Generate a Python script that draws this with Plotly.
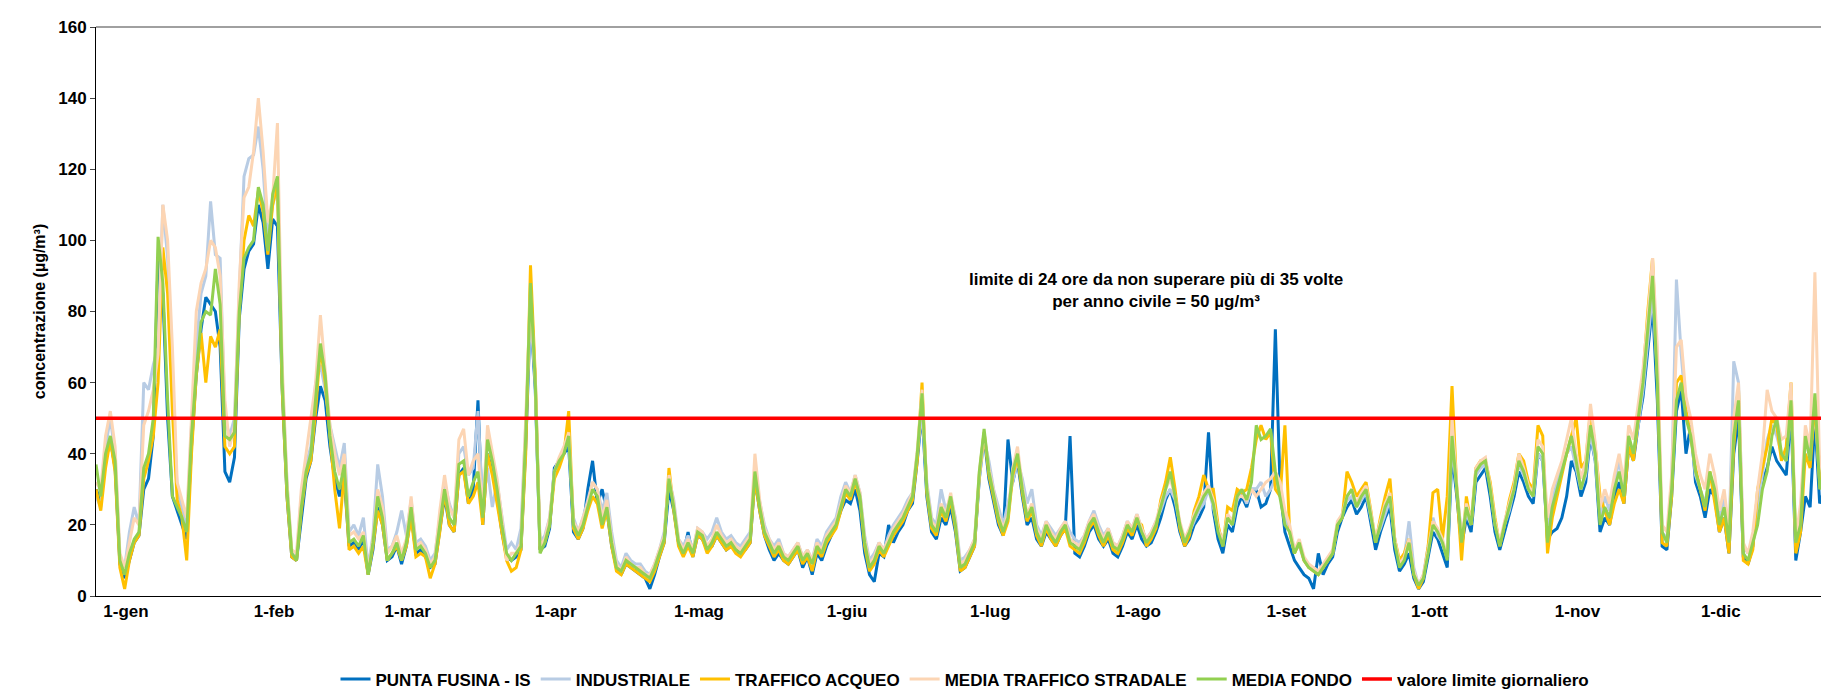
import plotly.graph_objects as go
import pandas as pd

dates = pd.date_range("2019-01-01", "2019-12-31", freq="D")

PUNTA_FUSINA = [
30,27,38,44,36,9,5,10,15,17,30,33,45,95,85,50,28,24,20,16,42,62,75,84,82,80,70,35,32,39,78,
92,97,99,110,105,92,106,104,58,28,11,10,22,33,38,50,59,55,42,33,28,33,14,15,13,16,6,13,
25,20,10,11,14,9,14,23,12,13,11,8,9,18,28,20,18,34,36,26,30,55,20,40,35,28,18,11,10,11,13,
42,80,58,13,14,19,36,38,40,42,18,16,19,30,38,26,30,24,14,8,6,9,8,7,6,5,2,6,11,15,
30,24,15,12,18,11,17,16,13,14,17,15,13,14,13,12,13,15,33,24,17,13,10,12,10,9,11,13,8,11,6,
12,10,14,17,20,24,27,26,30,24,12,6,4,12,11,20,15,18,20,24,26,38,52,28,18,16,22,20,25,18,
7,8,11,14,33,45,33,26,20,17,44,32,38,28,20,22,16,14,18,16,14,17,19,45,12,11,14,18,20,16,14,
16,12,11,14,18,16,20,16,14,15,18,22,27,30,25,18,14,16,20,22,25,46,24,16,12,20,18,25,28,25,30,
30,25,26,30,75,30,18,14,10,8,6,5,2,12,6,9,11,18,22,25,27,23,25,28,20,13,18,22,25,13,
7,9,12,5,2,4,11,18,16,12,8,40,28,14,22,18,32,34,36,28,18,13,18,23,28,35,32,28,26,40,38,
16,18,19,22,28,38,35,28,32,45,38,18,22,20,28,32,26,42,38,48,56,70,82,55,14,13,28,52,58,40,
48,32,28,22,30,28,18,22,12,40,50,11,9,14,28,32,36,42,38,36,34,52,10,18,28,25,50,26,30,38,60]

INDUSTRIALE = [
28,25,42,50,40,11,8,18,25,20,60,58,65,70,110,95,60,30,25,20,48,70,85,90,111,96,95,50,45,50,85,
118,123,124,132,120,100,110,115,62,32,12,11,28,37,42,60,65,58,48,42,36,43,18,20,17,22,8,17,
37,28,13,14,18,24,17,27,15,16,14,10,12,22,32,26,22,40,42,34,36,52,25,36,25,32,22,13,15,13,19,
50,78,62,15,17,22,34,37,41,44,22,18,22,27,32,30,24,29,18,10,8,12,10,9,9,7,6,9,13,18,
33,27,16,14,17,13,19,18,16,18,22,18,16,17,15,14,16,18,33,26,20,16,14,16,12,11,13,15,11,13,10,
16,14,18,20,22,28,32,29,34,29,17,10,12,15,13,17,20,22,24,27,29,40,52,32,22,20,30,24,28,22,
10,11,13,16,33,44,38,30,25,20,26,32,38,33,26,30,20,17,21,19,17,19,21,18,16,15,17,21,24,20,17,
19,15,14,17,21,19,23,19,16,18,21,24,28,30,27,20,16,18,21,24,26,30,25,19,15,22,20,27,29,26,30,
30,32,28,30,33,30,22,18,13,14,10,8,8,7,8,10,12,20,23,27,28,25,27,29,22,16,19,23,27,16,
9,11,21,8,3,6,14,22,17,15,11,42,30,17,23,20,34,36,37,31,20,15,20,24,30,37,34,30,28,40,38,
20,27,32,36,40,42,36,30,34,46,38,22,28,24,32,38,30,44,40,48,58,72,85,62,18,16,32,89,68,52,
45,34,30,26,34,30,22,28,15,66,60,14,12,16,26,34,44,48,45,40,38,55,14,24,44,40,52,32,38,44,88]

TRAFFICO_ACQUEO = [
30,24,36,44,35,8,2,10,15,17,33,38,45,60,98,85,52,27,22,10,40,62,74,60,73,70,75,42,40,42,80,
100,107,104,114,108,96,110,116,58,28,11,10,24,34,38,52,70,60,44,30,19,35,13,14,12,14,6,14,
24,20,10,12,14,10,14,22,11,12,11,5,9,18,29,20,18,34,35,26,28,32,20,40,34,26,18,10,7,8,13,
40,93,62,13,15,20,33,36,40,52,19,16,19,24,28,26,19,24,14,7,6,9,8,7,6,5,4,7,11,15,
36,24,14,11,14,11,17,16,12,14,17,15,13,14,12,11,13,15,33,24,17,14,11,13,10,9,11,13,9,11,7,
13,11,15,17,19,24,29,27,32,27,14,7,9,13,11,14,17,19,21,24,27,38,60,29,19,17,24,21,27,19,
7,8,11,14,34,46,34,27,21,17,21,34,39,29,21,24,17,14,19,16,14,17,19,14,13,12,15,19,21,17,14,
17,13,12,15,19,17,21,20,14,16,19,27,32,39,30,19,14,17,24,28,34,30,30,20,14,25,24,30,29,30,36,
44,48,44,46,30,28,48,18,12,15,10,8,7,6,8,10,12,20,22,35,32,28,30,32,24,15,22,28,33,16,
10,12,16,6,2,5,14,29,30,16,28,59,30,10,28,20,36,38,38,32,22,14,20,27,32,40,38,32,30,48,45,
12,22,28,34,40,45,50,36,38,52,42,28,24,20,26,30,26,42,38,50,62,80,95,62,15,14,28,60,62,52,
45,36,30,24,35,26,18,22,12,42,58,10,9,13,30,36,42,50,48,38,42,60,12,18,40,36,55,32,34,40,78]

MEDIA_TRAFFICO_STRADALE = [
32,30,45,52,42,12,8,15,22,20,48,52,58,68,110,100,70,32,27,22,50,80,88,92,100,98,90,55,42,48,88,
112,115,125,140,125,105,112,133,65,32,13,12,30,40,50,60,79,64,48,40,34,40,17,18,16,18,7,16,
30,25,12,14,17,12,16,28,14,15,13,9,11,24,34,25,22,44,47,34,38,40,24,48,40,33,22,10,12,12,15,
48,85,60,14,16,22,35,39,42,46,21,18,22,26,32,30,22,27,16,9,7,11,9,8,8,6,6,9,13,17,
34,26,16,13,16,13,19,18,14,16,20,17,15,16,14,13,15,17,40,27,19,16,13,15,12,11,13,15,11,13,10,
15,13,17,19,21,26,31,29,34,29,16,9,11,15,13,16,19,21,23,26,29,41,58,31,21,19,26,23,29,21,
9,10,13,16,35,46,36,29,23,19,23,36,42,31,23,26,19,16,21,18,16,19,21,16,15,14,17,21,23,19,16,
19,15,14,17,21,19,23,19,16,18,21,26,30,33,28,21,16,19,23,26,29,31,27,19,15,23,21,28,28,27,30,
28,30,32,33,35,32,24,20,13,16,11,9,8,7,9,11,13,21,23,28,30,26,29,31,23,16,21,26,29,16,
9,11,16,7,3,6,13,21,19,16,11,50,31,16,26,21,36,38,39,31,21,15,21,26,31,40,36,31,29,44,42,
22,30,34,38,44,50,40,33,38,54,43,25,30,26,34,40,32,48,44,54,64,78,95,70,20,18,34,70,72,56,
50,40,34,30,40,34,24,30,18,50,60,15,12,18,30,40,58,52,50,44,45,60,16,26,48,42,91,36,42,48,80]

MEDIA_FONDO = [
37,28,40,45,38,10,6,12,16,18,36,40,50,101,88,55,28,25,22,18,45,63,77,80,79,92,82,45,44,46,80,
95,98,100,115,110,97,113,118,60,30,12,10,25,35,40,55,71,62,45,35,30,37,15,16,14,17,6,15,
28,22,10,12,15,10,15,25,13,14,12,8,10,20,30,22,20,37,38,28,32,35,22,44,38,30,20,12,10,12,14,
45,88,60,12,15,20,35,38,40,45,20,17,20,25,30,28,20,25,15,8,7,10,9,8,7,6,5,8,12,16,
33,25,15,12,15,12,18,17,13,15,18,16,14,15,13,12,14,16,35,25,18,15,12,14,11,10,12,14,10,12,9,
14,12,16,18,20,25,30,28,33,28,15,8,10,14,12,15,18,20,22,25,28,40,57,30,20,18,25,22,28,20,
8,9,12,15,35,47,35,28,22,18,22,35,40,30,22,25,18,15,20,17,15,18,20,15,14,13,16,20,22,18,15,
18,14,13,16,20,18,22,18,15,17,20,25,30,35,28,20,15,18,22,25,28,30,26,18,14,22,20,28,30,27,32,
48,44,45,47,35,28,20,18,12,15,10,8,7,6,8,10,12,20,22,28,30,25,28,30,22,15,20,25,28,15,
8,10,15,6,3,5,12,20,18,15,10,45,30,15,25,20,35,37,38,30,20,14,20,25,30,38,35,30,28,42,40,
15,25,30,35,40,45,38,30,35,48,40,20,25,22,30,35,28,45,40,50,60,75,90,60,18,15,30,55,60,50,
45,35,30,25,35,30,20,25,15,45,55,12,10,15,20,30,35,45,50,40,38,55,15,20,45,38,57,30,35,40,68]

LIMIT = 50
MONTH_LABELS = ["1-gen","1-feb","1-mar","1-apr","1-mag","1-giu","1-lug","1-ago","1-set","1-ott","1-nov","1-dic"]
MONTH_STARTS = ["2019-01-01","2019-02-01","2019-03-01","2019-04-01","2019-05-01","2019-06-01",
                "2019-07-01","2019-08-01","2019-09-01","2019-10-01","2019-11-01","2019-12-01"]

series = [
    ("PUNTA FUSINA - IS", PUNTA_FUSINA, "#0070C0"),
    ("INDUSTRIALE", INDUSTRIALE, "#B8CCE4"),
    ("TRAFFICO ACQUEO", TRAFFICO_ACQUEO, "#FFC000"),
    ("MEDIA TRAFFICO STRADALE", MEDIA_TRAFFICO_STRADALE, "#FCD5B4"),
    ("MEDIA FONDO", MEDIA_FONDO, "#92D050"),
]

fig = go.Figure()
for name, vals, col in series:
    n = min(len(vals), len(dates))
    fig.add_trace(go.Scatter(x=dates[:n], y=vals[:n], mode="lines", name=name,
                             line=dict(color=col, width=3)))
fig.add_trace(go.Scatter(x=[dates[0], dates[-1]], y=[LIMIT, LIMIT], mode="lines",
                         name="valore limite giornaliero", line=dict(color="#FF0000", width=3.5)))

fig.add_annotation(xref="paper", yref="y", x=0.61, y=86,
                   text="<b>limite di 24 ore da non superare più di 35 volte<br>per anno civile = 50 µg/m³</b>",
                   showarrow=False, font=dict(size=17, color="black", family="Liberation Sans"))
fig.add_shape(type="line", xref="paper", yref="paper", x0=0, x1=1, y0=1, y1=1,
              line=dict(color="#808080", width=1.5))

fig.update_layout(
    width=1829, height=692, plot_bgcolor="white", paper_bgcolor="white",
    margin=dict(l=88, r=3, t=19, b=100),
    font=dict(family="Liberation Sans", size=16, color="black"),
    legend=dict(orientation="h", x=0.5, xanchor="center", y=-0.115, yanchor="top",
                font=dict(size=17, family="Liberation Sans", weight="bold"),
                itemwidth=30),
    showlegend=True,
)
fig.update_xaxes(range=[dates[0], dates[-1]], tickvals=MONTH_STARTS, ticktext=[f"<b>{t}</b>" for t in MONTH_LABELS],
                 ticklabelshift=30, showline=True, linecolor="black", linewidth=1, ticks="",
                 showgrid=False, zeroline=False, tickfont=dict(size=17))
fig.update_yaxes(range=[0, 160], dtick=20, tickformat="d", showline=True, linecolor="black", linewidth=1,
                 ticks="outside", ticklen=5, showgrid=False, zeroline=False,
                 tickfont=dict(size=17, weight="bold"),
                 title=dict(text="<b>concentrazione (µg/m³)</b>", font=dict(size=16), standoff=8))
fig.write_html("out.html")
